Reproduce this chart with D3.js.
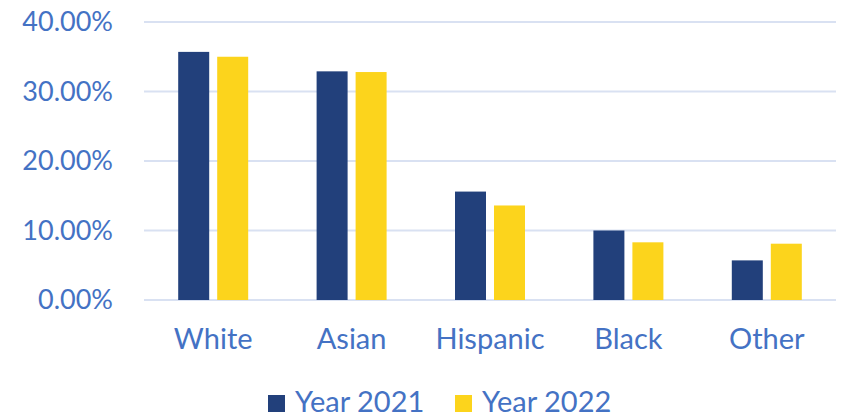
<!DOCTYPE html>
<html>
<head>
<meta charset="utf-8">
<script src="https://cdn.jsdelivr.net/npm/d3@7"></script>
<style>
  body { margin: 0; background: #fff; }
  svg { display: block; font-family: Lato, "Open Sans", sans-serif; }
</style>
</head>
<body>
<svg></svg>
<script>
'use strict';

const svgWidth = 849;
const svgHeight = 415;

const categories = ['White', 'Asian', 'Hispanic', 'Black', 'Other'];
const seriesNames = ['Year 2021', 'Year 2022'];
const year2021 = [35.7, 32.9, 15.6, 10.0, 5.7];
const year2022 = [35.0, 32.8, 13.6, 8.3, 8.1];
const yTicks = [0, 10, 20, 30, 40];

const colors = ['#22407b', '#fcd41c'];
const textColor = '#4472c4';

const margin = { top: 22, right: 13, bottom: 115, left: 144 };
const width = svgWidth - margin.left - margin.right;
const height = svgHeight - margin.top - margin.bottom;

const svg = d3.select('svg')
  .attr('width', svgWidth)
  .attr('height', svgHeight);

const svgG = svg.append('g')
  .attr('transform', `translate(${margin.left}, ${margin.top})`);

const rows = categories.map((c, i) => ({
  cat: c,
  vals: [year2021[i], year2022[i]]
}));

const x0 = d3.scaleBand()
  .domain(categories)
  .range([0, width]);

// two 31px bars with an 8px gap, centred in each band
const groupW = 70;
const x1 = d3.scaleBand()
  .domain(seriesNames)
  .range([(x0.bandwidth() - groupW) / 2, (x0.bandwidth() + groupW) / 2])
  .paddingInner(8 / 39);

const y = d3.scaleLinear()
  .domain([0, 40])
  .range([height, 0]);

// gridlines
svgG.append('g')
  .selectAll('line')
  .data(yTicks)
  .join('line')
  .attr('x1', 0)
  .attr('x2', width)
  .attr('y1', d => y(d))
  .attr('y2', d => y(d))
  .attr('stroke', '#d9e1f2')
  .attr('stroke-width', 2);

// y tick labels
const yAxis = svgG.append('g')
  .call(d3.axisLeft(y).tickValues(yTicks).tickFormat(d => d.toFixed(2) + '%').tickSize(0).tickPadding(31));
yAxis.select('.domain').remove();
yAxis.selectAll('text')
  .attr('fill', textColor)
  .attr('font-family', 'Lato, sans-serif')
  .attr('font-size', 27);

// bars
svgG.append('g')
  .selectAll('g')
  .data(rows)
  .join('g')
  .attr('transform', d => `translate(${x0(d.cat)}, 0)`)
  .selectAll('rect')
  .data(d => d.vals.map((v, i) => ({ key: seriesNames[i], v, i })))
  .join('rect')
  .attr('x', d => x1(d.key))
  .attr('width', x1.bandwidth())
  .attr('y', d => y(d.v))
  .attr('height', d => y(0) - y(d.v))
  .attr('fill', d => colors[d.i]);

// x labels
const xAxis = svgG.append('g')
  .attr('transform', `translate(0, ${height})`)
  .call(d3.axisBottom(x0).tickSize(0).tickPadding(28));
xAxis.select('.domain').remove();
xAxis.selectAll('text')
  .attr('fill', textColor)
  .attr('font-family', 'Lato, sans-serif')
  .attr('font-size', 29);

// legend
const legendX = [268, 455];
const legend = svg.append('g')
  .selectAll('g')
  .data(seriesNames)
  .join('g')
  .attr('transform', (d, i) => `translate(${legendX[i]}, 395)`);

legend.append('rect')
  .attr('width', 17)
  .attr('height', 17)
  .attr('fill', (d, i) => colors[i]);

legend.append('text')
  .attr('x', 27)
  .attr('y', 17)
  .attr('fill', textColor)
  .attr('font-size', 29)
  .text(d => d);
</script>
</body>
</html>
